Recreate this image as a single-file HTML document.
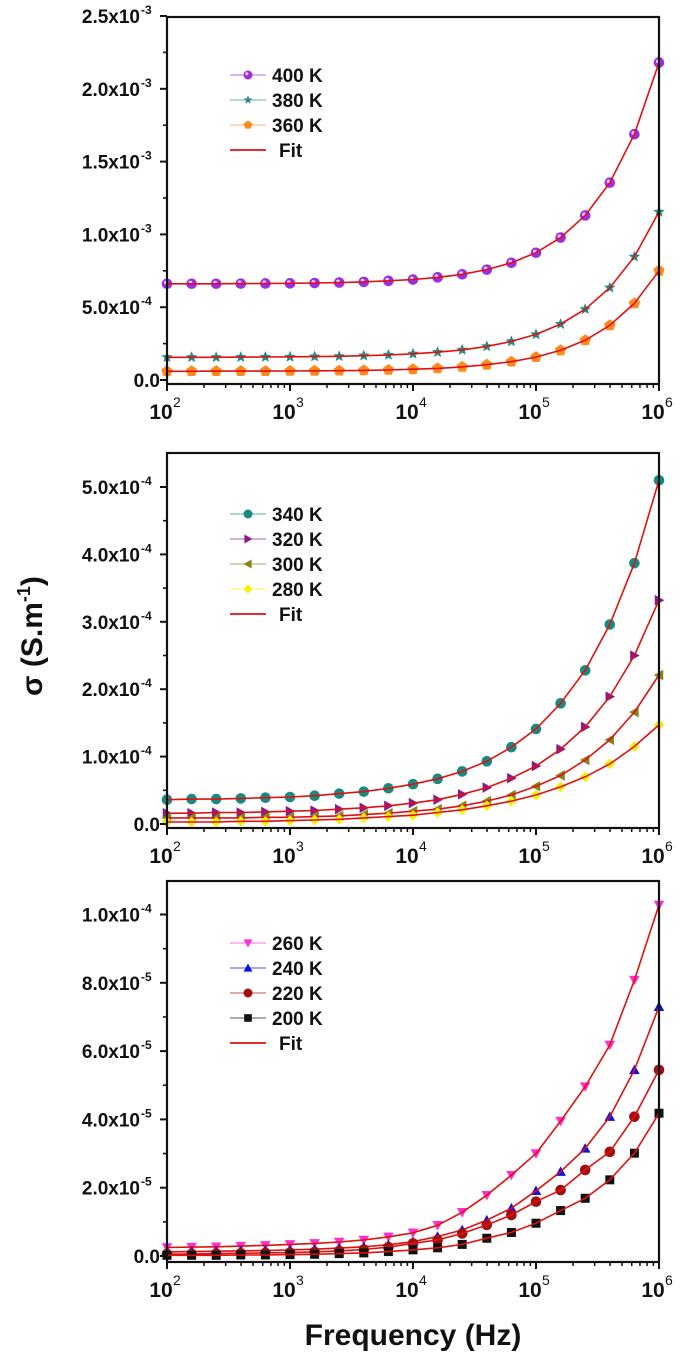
<!DOCTYPE html>
<html><head><meta charset="utf-8"><style>
html,body{margin:0;padding:0;background:#fff;}
svg{display:block;font-family:"Liberation Sans",Arial,sans-serif;}
</style></head>
<body>
<svg id="chart" width="685" height="1358" viewBox="0 0 685 1358" xmlns="http://www.w3.org/2000/svg">
<text x="413" y="1345" text-anchor="middle" font-size="30" font-weight="bold" fill="#111">Frequency (Hz)</text>
<text transform="translate(42,636) rotate(-90)" text-anchor="middle" font-size="30" font-weight="bold" fill="#111">σ (S.m<tspan dy="-12" font-size="18">-1</tspan><tspan dy="12">)</tspan></text>
</svg>
<script>
// shared frequency axis (log10 of Hz)
const logFreq = [2,2.2,2.4,2.6,2.8,3,3.2,3.4,3.6,3.8,4,4.2,4.4,4.6,4.8,5,5.2,5.4,5.6,5.8,6];
const xTickExps = [2,3,4,5,6];

// Panel 1 (units 1e-3 S/m)
const p1Labels = ["400 K","380 K","360 K"];
const s400 = [0.661,0.661,0.661,0.662,0.663,0.664,0.666,0.669,0.674,0.681,0.690,0.705,0.726,0.758,0.805,0.874,0.978,1.130,1.355,1.688,2.18];
const s380 = [0.156,0.156,0.156,0.157,0.158,0.159,0.161,0.163,0.167,0.172,0.180,0.191,0.207,0.231,0.265,0.313,0.384,0.486,0.634,0.847,1.155];
const s360 = [0.060,0.060,0.061,0.061,0.061,0.062,0.063,0.064,0.066,0.069,0.074,0.080,0.090,0.105,0.126,0.157,0.204,0.273,0.375,0.526,0.750];
const p1Ticks = [0,0.5,1.0,1.5,2.0,2.5];
const p1TickLabels = ["0.0","5.0x10|-4","1.0x10|-3","1.5x10|-3","2.0x10|-3","2.5x10|-3"];

// Panel 2 (units 1e-4 S/m)
const p2Labels = ["340 K","320 K","300 K","280 K"];
const s340 = [0.36,0.37,0.37,0.38,0.39,0.40,0.42,0.45,0.48,0.53,0.59,0.67,0.78,0.93,1.14,1.41,1.79,2.28,2.96,3.87,5.10];
const s320 = [0.16,0.16,0.17,0.17,0.18,0.19,0.20,0.22,0.24,0.27,0.31,0.36,0.44,0.54,0.68,0.86,1.11,1.44,1.89,2.50,3.32];
const s300 = [0.09,0.09,0.09,0.09,0.10,0.10,0.11,0.12,0.14,0.16,0.19,0.22,0.27,0.34,0.43,0.56,0.72,0.95,1.25,1.66,2.21];
const s280 = [0.03,0.03,0.03,0.04,0.04,0.05,0.06,0.07,0.09,0.11,0.13,0.17,0.21,0.27,0.34,0.43,0.55,0.70,0.89,1.15,1.47];
const p2Ticks = [0,1,2,3,4,5];
const p2TickLabels = ["0.0","1.0x10|-4","2.0x10|-4","3.0x10|-4","4.0x10|-4","5.0x10|-4"];

// Panel 3 (units 1e-5 S/m)
const p3Labels = ["260 K","240 K","220 K","200 K"];
const s260 = [0.25,0.26,0.27,0.29,0.31,0.34,0.37,0.41,0.47,0.56,0.68,0.90,1.28,1.78,2.37,3.00,3.95,4.96,6.18,8.08,10.28];
const s240 = [0.12,0.13,0.14,0.15,0.16,0.18,0.20,0.23,0.27,0.33,0.42,0.57,0.76,1.05,1.40,1.91,2.47,3.15,4.08,5.45,7.30];
const s220 = [0.06,0.06,0.07,0.08,0.09,0.10,0.12,0.15,0.19,0.26,0.37,0.47,0.66,0.91,1.20,1.59,1.93,2.52,3.05,4.08,5.45];
const s200 = [0.02,0.02,0.02,0.03,0.03,0.04,0.05,0.07,0.09,0.13,0.18,0.24,0.34,0.52,0.69,0.96,1.33,1.69,2.23,3.01,4.18];
const p3Ticks = [0,2,4,6,8,10];
const p3TickLabels = ["0.0","2.0x10|-5","4.0x10|-5","6.0x10|-5","8.0x10|-5","1.0x10|-4"];

const NS = "http://www.w3.org/2000/svg";
const svg = document.getElementById("chart");
function mk(tag, attrs, parent){
  const e = document.createElementNS(NS, tag);
  for (const k in attrs) e.setAttribute(k, attrs[k]);
  (parent||svg).appendChild(e);
  return e;
}

function marker(g, shape, cx, cy, color, r){
  let e;
  if (shape==="circle" || shape==="sphere"){
    e = mk("circle",{cx:cx,cy:cy,r:r,fill:color},g);
    if (shape==="sphere") mk("circle",{cx:cx-1.2,cy:cy-1.2,r:r*0.35,fill:"#e8d0ff"},g);
  } else if (shape==="square"){
    e = mk("rect",{x:cx-r*0.85,y:cy-r*0.85,width:r*1.7,height:r*1.7,fill:color},g);
  } else if (shape==="diamond"){
    e = mk("polygon",{points:`${cx},${cy-r} ${cx+r},${cy} ${cx},${cy+r} ${cx-r},${cy}`,fill:color},g);
  } else if (shape==="tri-up"){
    e = mk("polygon",{points:`${cx},${cy-r} ${cx+r},${cy+r*0.8} ${cx-r},${cy+r*0.8}`,fill:color},g);
  } else if (shape==="tri-down"){
    e = mk("polygon",{points:`${cx},${cy+r} ${cx+r},${cy-r*0.8} ${cx-r},${cy-r*0.8}`,fill:color},g);
  } else if (shape==="tri-right"){
    e = mk("polygon",{points:`${cx+r},${cy} ${cx-r*0.8},${cy-r} ${cx-r*0.8},${cy+r}`,fill:color},g);
  } else if (shape==="tri-left"){
    e = mk("polygon",{points:`${cx-r},${cy} ${cx+r*0.8},${cy-r} ${cx+r*0.8},${cy+r}`,fill:color},g);
  } else if (shape==="star"){
    let pts=[];
    for(let i=0;i<10;i++){const a=-Math.PI/2+i*Math.PI/5;const rr=i%2?r*0.45:r;pts.push((cx+rr*Math.cos(a)).toFixed(1)+","+(cy+rr*Math.sin(a)).toFixed(1));}
    e = mk("polygon",{points:pts.join(" "),fill:color},g);
  } else if (shape==="pentagon"){
    let pts=[];
    for(let i=0;i<5;i++){const a=-Math.PI/2+i*2*Math.PI/5;pts.push((cx+r*Math.cos(a)).toFixed(1)+","+(cy+r*Math.sin(a)).toFixed(1));}
    e = mk("polygon",{points:pts.join(" "),fill:color},g);
  }
  return e;
}

function drawPanel(cfg){
  const L=167, R=659;
  const xs = v => L + (v-2)/4*(R-L);
  const ys = v => cfg.y0 - v*cfg.ppu;
  const pg = mk("g",{});
  
  
  cfg.series.forEach((s)=>{
    const g = mk("g",{},pg);
    
    
    s.values.forEach((v,i)=>{
      const m = marker(g, s.shape, xs(logFreq[i]), ys(v), s.color, s.r||5.3);
      
      
    });
    const pts = s.values.map((v,i)=>xs(logFreq[i]).toFixed(1)+","+ys(v).toFixed(1)).join(" ");
    const fl = mk("polyline",{points:pts,fill:"none",stroke:"#e01010","stroke-width":1.6},g);
    
    
  });
  const fr = mk("rect",{x:L,y:cfg.top,width:R-L,height:cfg.axisY-cfg.top,fill:"none",stroke:"#111","stroke-width":2.2},pg);
  
  
  const yg = mk("g",{},pg);
  
  
  cfg.yTicks.forEach((t,i)=>{
    const y = ys(t);
    mk("line",{x1:L-7,x2:L,y1:y,y2:y,stroke:"#111","stroke-width":2},yg);
    if (i < cfg.yTicks.length-1){
      const ym = ys((t+cfg.yTicks[i+1])/2);
      mk("line",{x1:L-4,x2:L,y1:ym,y2:ym,stroke:"#111","stroke-width":1.6},yg);
    }
    const parts = cfg.yTickLabels[i].split("|");
    const tx = mk("text",{x:parts.length>1?140:160,y:y+7,"text-anchor":"end","font-size":19,"font-weight":"bold",fill:"#111"},yg);
    
    
    tx.textContent = parts[0];
    if (parts.length>1){
      const sp = mk("text",{x:141,y:y-2,"text-anchor":"start","font-size":12,"font-weight":"bold",fill:"#111"},yg);
      
      
      sp.textContent = parts[1];
    }
  });
  const xg = mk("g",{},pg);
  
  
  xTickExps.forEach((e,i)=>{
    const x = xs(e);
    mk("line",{x1:x,x2:x,y1:cfg.axisY,y2:cfg.axisY+7,stroke:"#111","stroke-width":2},xg);
    if (i < xTickExps.length-1){
      for(let k=2;k<=9;k++){
        const xm = xs(e+Math.log10(k));
        mk("line",{x1:xm,x2:xm,y1:cfg.axisY,y2:cfg.axisY+4,stroke:"#111","stroke-width":1.5},xg);
      }
    }
    const tx = mk("text",{x:x-6,y:cfg.axisY+35,"text-anchor":"middle","font-size":21,"font-weight":"bold",fill:"#111"},xg);
    
    
    tx.textContent = "10";
    const sp = mk("text",{x:x+6,y:cfg.axisY+23,"text-anchor":"start","font-size":14,fill:"#111"},xg);
    
    
    sp.textContent = String(e);
  });
  const lg = mk("g",{},pg);
  
  
  const entries = cfg.series.concat([{label:"Fit",fit:true}]);
  entries.forEach((s,i)=>{
    const y = cfg.legY + i*cfg.legStep;
    const eg = mk("g",{},lg);
    
    
    if (s.fit){
      mk("line",{x1:230,x2:266,y1:y,y2:y,stroke:"#e01010","stroke-width":1.8},eg);
    } else {
      mk("line",{x1:230,x2:266,y1:y,y2:y,stroke:s.lineColor||s.color,"stroke-width":1,opacity:0.7},eg);
      marker(eg, s.shape, 248, y, s.color, 4.5);
    }
    const tx = mk("text",{x:s.fit?279:272,y:y+7,"font-size":19,"font-weight":"bold",fill:"#111"},eg);
    tx.textContent = s.label;
  });
}

drawPanel({name:"panel-high-temp", top:17, axisY:384, y0:380, ppu:145.6, yTicks:p1Ticks, yTickLabels:p1TickLabels, legY:75, legStep:25,
  series:[
    {label:p1Labels[0], values:s400, shape:"sphere", color:"#9a2ee0"},
    {label:p1Labels[1], values:s380, shape:"star", color:"#2a8a86", r:6},
    {label:p1Labels[2], values:s360, shape:"pentagon", color:"#ff8a1c", r:6}
  ]});
drawPanel({name:"panel-mid-temp", top:453, axisY:828, y0:824, ppu:67.4, yTicks:p2Ticks, yTickLabels:p2TickLabels, legY:514, legStep:25,
  series:[
    {label:p2Labels[0], values:s340, shape:"circle", color:"#1a8a80"},
    {label:p2Labels[1], values:s320, shape:"tri-right", color:"#8a1a8a"},
    {label:p2Labels[2], values:s300, shape:"tri-left", color:"#85851a"},
    {label:p2Labels[3], values:s280, shape:"diamond", color:"#f5f000"}
  ]});
drawPanel({name:"panel-low-temp", top:881, axisY:1262, y0:1256, ppu:34.15, yTicks:p3Ticks, yTickLabels:p3TickLabels, legY:943, legStep:25,
  series:[
    {label:p3Labels[0], values:s260, shape:"tri-down", color:"#ff30d0"},
    {label:p3Labels[1], values:s240, shape:"tri-up", color:"#1010e0"},
    {label:p3Labels[2], values:s220, shape:"circle", color:"#a01010"},
    {label:p3Labels[3], values:s200, shape:"square", color:"#111"}
  ]});
</script>
</body></html>
